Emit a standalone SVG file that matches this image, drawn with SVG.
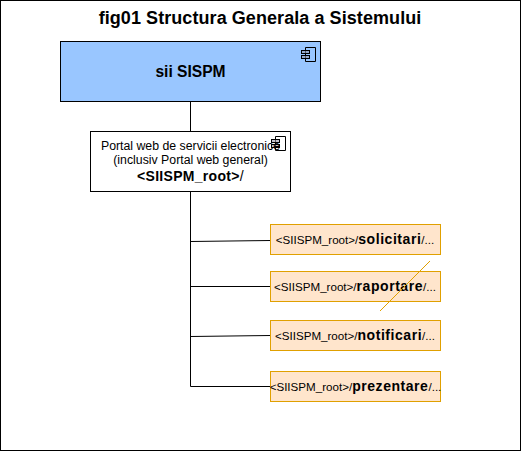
<svg xmlns="http://www.w3.org/2000/svg" width="521" height="451" viewBox="0 0 521 451">
<defs>
<g id="comp">
<path d="M4.500 0.500H14.500V14.500H4.500Z" fill="none" stroke="#000" stroke-width="1"/>
<rect x="0.500" y="3.500" width="8" height="3" fill="#99a" fill-opacity="0.6" stroke="#000"/>
<rect x="0.500" y="8.500" width="8" height="3" fill="#99a" fill-opacity="0.6" stroke="#000"/>
</g>
</defs>
<style>
text{font-family:"Liberation Sans",Arial,sans-serif;fill:#000;text-anchor:middle}
.title{font-size:18px;font-weight:bold;letter-spacing:.07px}
.lbl{font-size:12.300px}
.link{font-size:11.600px}
.link tspan{font-size:14px;font-weight:bold;letter-spacing:.55px}
.orange{fill:#FFE5CC;stroke:#E0A000;stroke-width:1}
.conn{fill:none;stroke:#000;stroke-width:1}
</style>
<rect x="0.500" y="0.500" width="520" height="450" fill="#fff" stroke="#000"/>
<text class="title" x="260" y="24">fig01 Structura Generala a Sistemului</text>
<g id="connectors">
<path class="conn" d="M190.500 101.500V131.500M190.500 191.500V386.500M190.500 241.500L270.500 240.500M190.500 286.500H270.500M190.500 336.500L270.500 335.500M190.500 386.500H270.500"/>
</g>
<g id="sii-sispm">
<rect x="60.500" y="41.500" width="260" height="60" fill="#99C6FF" stroke="#000"/>
<use href="#comp" x="301" y="47"/>
<text x="190.500" y="77" style="font-size:15.600px;font-weight:bold">sii SISPM</text>
</g>
<g id="portal">
<rect x="90.500" y="131.500" width="200" height="60" fill="#fff" stroke="#000"/>
<use href="#comp" x="271" y="136"/>
<text class="lbl" x="190.500" y="150">Portal web de servicii electronice</text>
<text class="lbl" x="190.500" y="164">(inclusiv Portal web general)</text>
<text x="190.500" y="181" style="font-size:14px;letter-spacing:.3px"><tspan font-weight="bold">&lt;SIISPM_root&gt;</tspan>/</text>
</g>
<g id="solicitari">
<rect class="orange" x="270.500" y="224.500" width="170" height="30"/>
<text class="link" x="355" y="244">&lt;SIISPM_root&gt;/<tspan>solicitari</tspan>/...</text>
</g>
<g id="raportare">
<rect class="orange" x="270.500" y="271.500" width="170" height="30"/>
<text class="link" x="355" y="291">&lt;SIISPM_root&gt;/<tspan>raportare</tspan>/...</text>
<line x1="430" y1="261" x2="380" y2="311" stroke="#E0A000" stroke-width="1"/>
</g>
<g id="notificari">
<rect class="orange" x="270.500" y="320.500" width="170" height="30"/>
<text class="link" x="355" y="340">&lt;SIISPM_root&gt;/<tspan>notificari</tspan>/...</text>
</g>
<g id="prezentare">
<rect class="orange" x="270.500" y="371.500" width="170" height="30"/>
<text class="link" x="355.500" y="391">&lt;SIISPM_root&gt;/<tspan>prezentare</tspan>/...</text>
</g>
</svg>
